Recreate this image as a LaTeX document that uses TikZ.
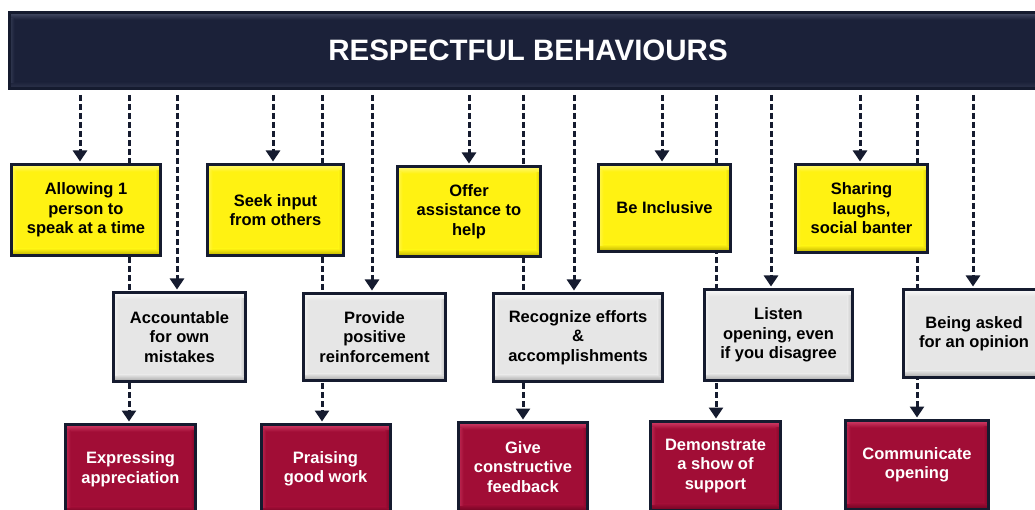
\documentclass[tikz,border=0pt]{standalone}
\usepackage{fontspec}
\setmainfont{Liberation Sans}
\usetikzlibrary{arrows.meta}
\pgfdeclarelayer{bg}
\pgfdeclarelayer{lines}
\pgfsetlayers{bg,lines,main}
\definecolor{navy}{HTML}{151B2F}
\definecolor{hdrfill}{HTML}{1B2139}
\definecolor{hdrlt}{HTML}{454C66}
\definecolor{hdrdk}{HTML}{2E344C}
\definecolor{ylw}{HTML}{FFF212}
\definecolor{ylwlt}{HTML}{FFF97A}
\definecolor{ylwdk}{HTML}{B8AE00}
\definecolor{gry}{HTML}{E6E6E6}
\definecolor{grylt}{HTML}{FBFBFB}
\definecolor{grydk}{HTML}{A3A3A3}
\definecolor{rd}{HTML}{A10D36}
\definecolor{rdlt}{HTML}{D23E69}
\definecolor{rddk}{HTML}{6A0320}
\tikzset{
  x=1pt, y=-1pt,
  bevelbox/.style n args={3}{draw=navy, line width=3pt, fill=#1,
    align=center, inner sep=0pt,
    path picture={
      \path (path picture bounding box.north west) coordinate (pnw)
            (path picture bounding box.south east) coordinate (pse);
      \shade[top color=#2, bottom color=#1] (pnw) rectangle ([yshift=-7pt]pnw -| pse);
      \shade[top color=#1, bottom color=#3] ([yshift=7pt]pse -| pnw) rectangle (pse);
      \shade[left color=#2, right color=#1, opacity=0.6] ([yshift=-6pt]pnw) rectangle ([xshift=5pt,yshift=6pt]pse -| pnw);
      \shade[left color=#1, right color=#3, opacity=0.6] ([xshift=-5pt,yshift=-6pt]pnw -| pse) rectangle ([yshift=6pt]pse);
    }},
  boxfont/.style={font=\fontsize{16.5}{19.5}\selectfont\bfseries},
  ybox/.style={bevelbox={ylw}{ylwlt}{ylwdk}, boxfont, text=black},
  gbox/.style={bevelbox={gry}{grylt}{grydk}, boxfont, text=black},
  rbox/.style={bevelbox={rd}{rdlt}{rddk}, boxfont, text=white},
  hdrbox/.style={bevelbox={hdrfill}{hdrlt}{hdrdk}, text=white,
    font=\fontsize{29.5}{32}\selectfont\bfseries},
  conn/.style={draw=navy, line width=3pt, dash pattern=on 6pt off 3pt,
    shorten <=5pt},
  arr/.style={conn, -{Triangle[width=14pt,length=11pt]}, shorten >=1.5pt},
}
\begin{document}
\begin{tikzpicture}
\useasboundingbox (0,0) rectangle (1035,510);
\begin{pgfonlayer}{bg}
  \fill[white] (0,0) rectangle (1035,510);
\end{pgfonlayer}
\clip (0,0) rectangle (1035,510);

% header
\node[hdrbox, minimum width=1037, minimum height=76] (hdr) at (528,50.5) {RESPECTFUL BEHAVIOURS};

% yellow row
\node[ybox, minimum width=149, minimum height=91] (y1) at (86,210) {Allowing 1\\person to\\speak at a time};
\node[ybox, minimum width=136, minimum height=91] (y2) at (275.5,210) {Seek input\\from others};
\node[ybox, minimum width=143, minimum height=90] (y3) at (469,211.5) {Offer\\assistance to\\help};
\node[ybox, minimum width=132, minimum height=87] (y4) at (664.5,208) {Be Inclusive};
\node[ybox, minimum width=132, minimum height=88] (y5) at (861.5,208.5) {Sharing\\laughs,\\social banter};

% grey row
\node[gbox, minimum width=132, minimum height=89] (g1) at (179.5,337) {Accountable\\for own\\mistakes};
\node[gbox, minimum width=142, minimum height=87] (g2) at (374.5,337) {Provide\\positive\\reinforcement};
\node[gbox, minimum width=169, minimum height=88] (g3) at (578,337.5) {Recognize efforts\\\&\\accomplishments};
\node[gbox, minimum width=148, minimum height=91] (g4) at (778.5,335) {Listen\\opening, even\\if you disagree};
\node[gbox, minimum width=141, minimum height=88] (g5) at (974,333.5) {Being asked\\for an opinion};

% red row
\node[rbox, minimum width=130, minimum height=89] (r1) at (130.5,469) {Expressing\\appreciation};
\node[rbox, minimum width=129, minimum height=89] (r2) at (325.5,469) {Praising\\good work};
\node[rbox, minimum width=129, minimum height=89] (r3) at (523,467) {Give\\constructive\\feedback};
\node[rbox, minimum width=130, minimum height=89] (r4) at (715.5,466) {Demonstrate\\a show of\\support};
\node[rbox, minimum width=143, minimum height=89] (r5) at (917,465) {Communicate\\opening};

% connectors
\begin{pgfonlayer}{lines}
  % group 1
  \draw[arr] ([xshift=-6pt]y1.north |- hdr.south) -- ([xshift=-6pt]y1.north);
  \draw[arr] ([xshift=-1.5pt]r1.north |- hdr.south) -- ([xshift=-1.5pt]r1.north);
  \draw[arr] ([xshift=-2.5pt]g1.north |- hdr.south) -- ([xshift=-2.5pt]g1.north);
  % group 2
  \draw[arr] ([xshift=-2.5pt]y2.north |- hdr.south) -- ([xshift=-2.5pt]y2.north);
  \draw[arr] ([xshift=-3.5pt]r2.north |- hdr.south) -- ([xshift=-3.5pt]r2.north);
  \draw[arr] ([xshift=-2.5pt]g2.north |- hdr.south) -- ([xshift=-2.5pt]g2.north);
  % group 3
  \draw[arr] (y3.north |- hdr.south) -- (y3.north);
  \draw[arr] (r3.north |- hdr.south) -- (r3.north);
  \draw[arr] ([xshift=-4pt]g3.north |- hdr.south) -- ([xshift=-4pt]g3.north);
  % group 4
  \draw[arr] ([xshift=-2.5pt]y4.north |- hdr.south) -- ([xshift=-2.5pt]y4.north);
  \draw[arr] ([xshift=0.5pt]r4.north |- hdr.south) -- ([xshift=0.5pt]r4.north);
  \draw[arr] ([xshift=-7.5pt]g4.north |- hdr.south) -- ([xshift=-7.5pt]g4.north);
  % group 5
  \draw[arr] ([xshift=-1.5pt]y5.north |- hdr.south) -- ([xshift=-1.5pt]y5.north);
  \draw[arr] (r5.north |- hdr.south) -- (r5.north);
  \draw[arr] ([xshift=-1pt]g5.north |- hdr.south) -- ([xshift=-1pt]g5.north);
\end{pgfonlayer}
\end{tikzpicture}
\end{document}
